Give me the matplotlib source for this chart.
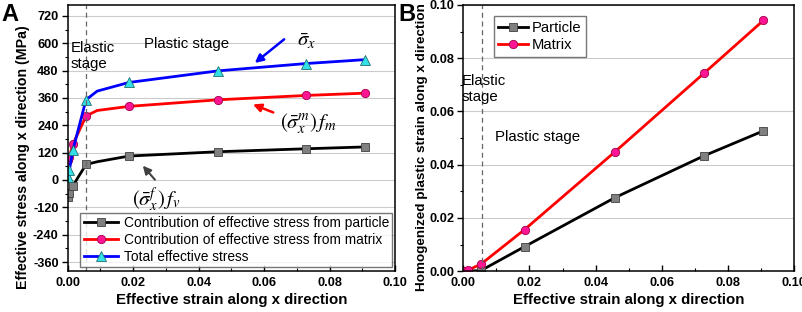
import matplotlib
matplotlib.use("Agg")
import matplotlib.pyplot as plt
from matplotlib.ticker import MultipleLocator

plt.rcParams['font.family'] = ['Liberation Sans', 'DejaVu Sans']
plt.rcParams['mathtext.fontset'] = 'stix'
plt.rcParams['axes.unicode_minus'] = False

# --- Panel A data: effective stress vs effective strain ---
strain_a = [0.0002, 0.0005, 0.0016, 0.0056, 0.009, 0.0187, 0.046, 0.0728, 0.0907]
stress_particle = [-73, -58, -25, 68, 80, 105, 124, 137, 145]
stress_matrix = [86, 100, 157, 281, 305, 323, 352, 371, 381]
stress_total = [13, 42, 132, 352, 390, 428, 479, 511, 528]
marks_a = [0, 1, 2, 3, 5, 6, 7, 8]   # knee point at index 4 has no marker

# --- Panel B data: homogenized plastic strain ---
strain_b = [0.0, 0.0013, 0.0053, 0.0185, 0.0458, 0.0727, 0.0907]
plastic_particle = [0.0, 0.0, 0.0002, 0.0092, 0.0276, 0.0433, 0.0527]
plastic_matrix = [0.0, 0.0003, 0.0026, 0.0156, 0.0448, 0.0743, 0.0942]

elastic_limit = 0.0056

sq = dict(marker='s', ms=5.5, mfc='#808080', mec='#404040', mew=0.6)
ci = dict(marker='o', ms=6, mfc='#ff1493', mec='#a0004a', mew=0.6)
tr = dict(marker='^', ms=7, mfc='#33e0e8', mec='#207070', mew=0.6)

fig = plt.figure(figsize=(8.03, 3.12), dpi=100)
ax_a = fig.add_axes([0.0843, 0.131, 0.4076, 0.853])
ax_b = fig.add_axes([0.577, 0.131, 0.412, 0.853])

txt_size = 10.8

def style(ax):
    ax.yaxis.grid(True, color='#cccccc', lw=0.8)
    ax.set_axisbelow(True)
    ax.xaxis.set_major_locator(MultipleLocator(0.02))
    ax.xaxis.set_minor_locator(MultipleLocator(0.01))
    ax.tick_params(axis='both', which='major', labelsize=9.2, width=1, length=4.5, pad=2)
    ax.tick_params(axis='both', which='minor', width=0.8, length=2.5)
    ax.tick_params(axis='x', which='both', direction='in', pad=4)
    ax.tick_params(axis='y', which='both', direction='out')
    for lbl in ax.get_xticklabels() + ax.get_yticklabels():
        lbl.set_fontweight('bold')
    for sp in ax.spines.values():
        sp.set_linewidth(1.1)
    ax.set_xlabel('Effective strain along x direction', labelpad=3,
                  fontsize=10.8, fontweight='bold')

# ---------------- Panel A ----------------
ax_a.plot(strain_a, stress_particle, color='black', lw=2, markevery=marks_a,
          label='Contribution of effective stress from particle', **sq)
ax_a.plot(strain_a, stress_matrix, color='red', lw=2, markevery=marks_a,
          label='Contribution of effective stress from matrix', **ci)
ax_a.plot(strain_a, stress_total, color='blue', lw=2, markevery=marks_a,
          label='Total effective stress', **tr)
ax_a.axvline(elastic_limit, color='#666666', lw=0.9, ls=(0, (4, 3)))
ax_a.set_xlim(0, 0.10)
ax_a.set_ylim(-400, 768)
ax_a.yaxis.set_major_locator(MultipleLocator(120))
ax_a.yaxis.set_minor_locator(MultipleLocator(60))
style(ax_a)
ax_a.set_ylabel('Effective stress along x direction (MPa)',
                fontsize=10.2, fontweight='bold')
ax_a.yaxis.set_label_coords(-0.115, 0.43)
ax_a.legend(loc='lower left', bbox_to_anchor=(0.03, 0.005), fontsize=9.9,
            frameon=True, fancybox=False, edgecolor='#555555', handlelength=2.5,
            borderpad=0.25, labelspacing=0.2, handletextpad=0.4, borderaxespad=0.2)

ax_a.text(0.0008, 612, 'Elastic\nstage', fontsize=txt_size, va='top', ha='left', linespacing=1.25)
ax_a.text(0.0232, 596, 'Plastic stage', fontsize=txt_size, va='center')
ax_a.text(0.0700, 610, r'$\bar{\sigma}_x$', fontsize=15, va='center')
ax_a.annotate('', xy=(0.0565, 506), xytext=(0.0668, 625),
              arrowprops=dict(arrowstyle='-|>', color='blue', lw=1.8, mutation_scale=12))
ax_a.text(0.065, 248, r'$(\bar{\sigma}_x^m)\,f_m$', fontsize=15, va='center')
ax_a.annotate('', xy=(0.0558, 336), xytext=(0.0636, 292),
              arrowprops=dict(arrowstyle='-|>', color='red', lw=1.8, mutation_scale=12))
ax_a.text(0.0196, -88, r'$(\bar{\sigma}_x^f)\,f_v$', fontsize=15, va='center')
ax_a.annotate('', xy=(0.0224, 72), xytext=(0.0272, -8),
              arrowprops=dict(arrowstyle='-|>', color='#404040', lw=1.5, mutation_scale=12))

# ---------------- Panel B ----------------
ax_b.plot(strain_b, plastic_particle, color='black', lw=2, label='Particle', **sq)
ax_b.plot(strain_b, plastic_matrix, color='red', lw=2, label='Matrix', **ci)
ax_b.axvline(elastic_limit, color='#666666', lw=0.9, ls=(0, (4, 3)))
ax_b.set_xlim(0, 0.10)
ax_b.set_ylim(0, 0.10)
ax_b.yaxis.set_major_locator(MultipleLocator(0.02))
ax_b.yaxis.set_minor_locator(MultipleLocator(0.01))
style(ax_b)
ax_b.set_ylabel('Homogenized plastic strain along x direction',
                fontsize=9.7, fontweight='bold')
ax_b.yaxis.set_label_coords(-0.108, 0.466)
ax_b.legend(loc='upper left', bbox_to_anchor=(0.07, 0.985), fontsize=10.6,
            frameon=True, fancybox=False, edgecolor='#555555', handlelength=2.0,
            borderpad=0.3, labelspacing=0.25, handletextpad=0.3)
ax_b.text(-0.0004, 0.0684, 'Elastic\nstage', fontsize=txt_size, va='center', ha='left',
          linespacing=1.25)
ax_b.text(0.0096, 0.0503, 'Plastic stage', fontsize=txt_size, va='center')

fig.text(0.002, 0.955, 'A', fontsize=17, fontweight='bold', va='center')
fig.text(0.496, 0.955, 'B', fontsize=17, fontweight='bold', va='center')

fig.savefig('out.png', dpi=100)
